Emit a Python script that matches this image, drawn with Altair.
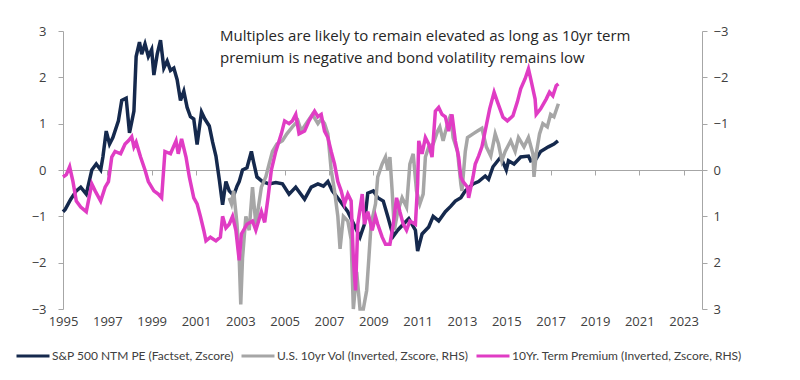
import altair as alt
import pandas as pd

# S&P 500 NTM PE z-score (left axis)
pe = [(1995.0, -0.9), (1995.1, -0.85), (1995.35, -0.63), (1995.6, -0.45), (1995.8, -0.37),
      (1996.05, -0.52), (1996.3, 0.0), (1996.5, 0.13), (1996.7, 0.0), (1996.8, 0.28),
      (1996.95, 0.84), (1997.1, 0.56), (1997.25, 0.7), (1997.5, 1.06), (1997.65, 1.5),
      (1997.85, 1.55), (1998.0, 0.8), (1998.2, 1.27), (1998.3, 2.45), (1998.45, 2.76),
      (1998.55, 2.5), (1998.7, 2.72), (1998.85, 2.45), (1999.0, 2.6), (1999.1, 2.05),
      (1999.25, 2.5), (1999.4, 2.8), (1999.55, 2.2), (1999.7, 2.35), (1999.85, 2.15),
      (2000.0, 2.2), (2000.15, 1.95), (2000.3, 1.5), (2000.45, 1.7), (2000.6, 1.35),
      (2000.75, 1.15), (2000.9, 1.1), (2001.05, 0.55), (2001.25, 1.25), (2001.4, 1.1),
      (2001.6, 0.95), (2001.75, 0.6), (2001.9, 0.3), (2002.05, -0.2), (2002.2, -0.75),
      (2002.35, -0.25), (2002.5, -0.45), (2002.7, -0.55), (2002.85, -0.35), (2002.95, -0.25),
      (2003.1, 0.0), (2003.3, 0.05), (2003.5, 0.4), (2003.6, 0.17), (2003.75, -0.15),
      (2004.0, -0.25), (2004.3, -0.3), (2004.6, -0.27), (2004.9, -0.3), (2005.2, -0.52),
      (2005.5, -0.37), (2005.9, -0.63), (2006.2, -0.37), (2006.5, -0.3), (2006.75, -0.35),
      (2006.95, -0.25), (2007.15, -0.45), (2007.5, -0.67), (2007.85, -0.9), (2008.05, -1.1),
      (2008.4, -1.45), (2008.6, -1.17), (2008.75, -0.5), (2009.0, -0.45), (2009.2, -0.6),
      (2009.45, -0.67), (2009.65, -1.0), (2009.9, -1.43), (2010.1, -1.3), (2010.35, -1.17),
      (2010.6, -1.05), (2010.9, -1.3), (2011.0, -1.75), (2011.2, -1.38), (2011.5, -1.23),
      (2011.7, -1.0), (2011.95, -1.1), (2012.25, -0.9), (2012.5, -0.78), (2012.7, -0.67),
      (2012.95, -0.6), (2013.15, -0.45), (2013.5, -0.3), (2013.75, -0.25), (2014.05, -0.13),
      (2014.2, -0.2), (2014.4, 0.07), (2014.75, 0.28), (2015.0, 0.0), (2015.1, 0.2),
      (2015.35, 0.13), (2015.65, 0.28), (2016.0, 0.3), (2016.1, 0.2), (2016.35, 0.24),
      (2016.55, 0.4), (2016.9, 0.5), (2017.15, 0.56), (2017.33, 0.63)]

# U.S. 10yr Vol z-score, inverted (right axis values)
vol = [(2002.5, 0.6), (2002.6, 0.73), (2002.7, 0.45), (2002.85, 1.17), (2002.95, 1.9),
       (2003.02, 2.9), (2003.1, 1.9), (2003.25, 1.0), (2003.4, 1.3), (2003.55, 0.37),
       (2003.7, 1.17), (2003.95, 0.37), (2004.15, 0.15), (2004.3, -0.13), (2004.45, -0.4),
       (2004.65, -0.56), (2004.9, -0.63), (2005.1, -0.78), (2005.35, -0.93), (2005.6, -1.06),
       (2005.75, -0.84), (2006.05, -1.06), (2006.25, -1.2), (2006.5, -1.0), (2006.65, -1.1),
       (2006.8, -1.0), (2006.95, -0.78), (2007.1, 0.0), (2007.25, 0.45), (2007.4, 1.0),
       (2007.5, 1.7), (2007.65, 1.0), (2007.85, 1.1), (2008.0, 1.5), (2008.1, 3.0),
       (2008.25, 2.2), (2008.4, 3.0), (2008.55, 3.0), (2008.7, 2.6), (2008.8, 1.9),
       (2008.9, 1.17), (2009.1, 0.73), (2009.2, 0.15), (2009.4, -0.13), (2009.55, -0.28),
       (2009.65, 0.0), (2009.75, -0.28), (2009.85, 0.45), (2009.95, 1.3), (2010.1, 0.9),
       (2010.3, 0.6), (2010.5, 0.8), (2010.65, -0.13), (2010.8, -0.35), (2010.95, 0.45),
       (2011.1, 0.73), (2011.25, 0.52), (2011.35, -0.28), (2011.5, -0.5), (2011.7, -0.56),
       (2011.9, -0.84), (2012.0, -0.93), (2012.15, -0.63), (2012.35, -1.0), (2012.5, -1.2),
       (2012.6, -0.7), (2012.8, -0.4), (2012.95, 0.3), (2013.0, 0.45), (2013.15, -0.4),
       (2013.25, -0.7), (2013.5, -0.78), (2013.7, -0.84), (2013.9, -0.9), (2014.1, -0.5),
       (2014.3, -0.3), (2014.5, -0.78), (2014.65, -0.56), (2014.8, -0.2), (2014.95, -0.4),
       (2015.2, -0.63), (2015.4, -0.4), (2015.55, -0.7), (2015.8, -0.5), (2016.0, -0.7),
       (2016.2, -0.35), (2016.25, 0.15), (2016.35, -0.35), (2016.5, -0.78), (2016.65, -1.0),
       (2016.85, -0.93), (2017.0, -1.2), (2017.15, -1.15), (2017.35, -1.43)]

# 10Yr term premium z-score, inverted (right axis values)
tp = [(1995.0, 0.15), (1995.15, 0.1), (1995.3, -0.07), (1995.45, 0.25), (1995.6, 0.67),
      (1995.8, 0.8), (1996.05, 0.9), (1996.3, 0.3), (1996.45, 0.45), (1996.7, 0.67),
      (1996.9, 0.37), (1997.05, 0.25), (1997.2, -0.28), (1997.35, -0.4), (1997.6, -0.35),
      (1997.8, -0.56), (1997.95, -0.63), (1998.1, -0.72), (1998.2, -0.5), (1998.3, -0.6),
      (1998.5, -0.28), (1998.7, 0.0), (1998.85, 0.25), (1999.1, 0.45), (1999.3, 0.52),
      (1999.45, 0.6), (1999.6, -0.4), (1999.85, -0.35), (2000.1, -0.63), (2000.2, -0.35),
      (2000.35, -0.67), (2000.55, -0.28), (2000.7, 0.15), (2000.9, 0.6), (2001.05, 0.73),
      (2001.2, 1.0), (2001.35, 1.3), (2001.45, 1.53), (2001.65, 1.45), (2001.9, 1.53),
      (2002.1, 1.45), (2002.2, 1.0), (2002.35, 1.25), (2002.5, 1.17), (2002.65, 1.0),
      (2002.8, 1.3), (2002.95, 1.95), (2003.05, 1.38), (2003.3, 1.17), (2003.55, 1.1),
      (2003.7, 1.3), (2003.95, 0.9), (2004.1, 1.13), (2004.25, 0.6), (2004.4, 0.0),
      (2004.6, -0.4), (2004.85, -0.78), (2005.0, -1.06), (2005.2, -1.0), (2005.35, -1.06),
      (2005.5, -1.2), (2005.65, -0.78), (2005.9, -0.84), (2006.1, -1.06), (2006.35, -1.27),
      (2006.5, -1.15), (2006.65, -1.2), (2006.8, -0.84), (2006.95, -0.7), (2007.1, -0.4),
      (2007.25, -0.13), (2007.4, 0.25), (2007.55, 0.45), (2007.7, 0.73), (2007.85, 0.52),
      (2008.0, 0.67), (2008.1, 1.9), (2008.2, 2.6), (2008.3, 1.17), (2008.5, 0.52),
      (2008.6, 1.17), (2008.75, 0.9), (2008.95, 1.3), (2009.1, 1.0), (2009.2, 1.17),
      (2009.4, 1.45), (2009.55, 1.6), (2009.75, 1.6), (2009.9, 1.17), (2010.05, 0.6),
      (2010.2, 0.9), (2010.35, 1.17), (2010.5, 1.3), (2010.65, 1.1), (2010.9, 1.17),
      (2011.0, 0.3), (2011.05, -0.63), (2011.2, -0.35), (2011.35, -0.7), (2011.5, -0.56),
      (2011.65, -0.28), (2011.8, -1.27), (2011.95, -1.35), (2012.1, -1.2), (2012.25, -1.15),
      (2012.4, -0.84), (2012.55, -1.2), (2012.7, -0.63), (2012.85, -0.28), (2012.95, 0.15),
      (2013.05, 0.25), (2013.25, 0.37), (2013.3, 0.6), (2013.5, 0.15), (2013.6, -0.13),
      (2013.75, -0.3), (2013.9, -0.5), (2014.0, -0.73), (2014.25, -1.32), (2014.45, -1.68),
      (2014.6, -1.47), (2014.85, -1.14), (2015.05, -1.06), (2015.3, -1.17), (2015.5, -1.47),
      (2015.65, -1.75), (2015.85, -1.97), (2016.0, -2.18), (2016.1, -1.97), (2016.3, -1.53),
      (2016.35, -1.2), (2016.55, -1.32), (2016.8, -1.53), (2016.95, -1.68), (2017.1, -1.6),
      (2017.25, -1.82), (2017.35, -1.86)]

series_names = ["S&P 500 NTM PE (Factset, Zscore)",
                "U.S. 10yr Vol (Inverted, Zscore, RHS)",
                "10Yr. Term Premium (Inverted, Zscore, RHS)"]
series_colors = ["#15294d", "#a6a6a6", "#e03cc4"]
year_ticks = list(range(1995, 2024, 2))
y_ticks = [-3, -2, -1, 0, 1, 2, 3]
title_lines = ["Multiples are likely to remain elevated as long as 10yr term",
               "premium is negative and bond volatility remains low"]

rows = []
for name, pts in zip(series_names, [pe, vol, tp]):
    for t, v in pts:
        rows.append({"t": t, "v": v, "series": name})
df = pd.DataFrame(rows)

FONT = "Open Sans"
LFONT = "Lato"
LBL = "#404040"
AX = "#a6a6a6"

color = alt.Color("series:N", scale=alt.Scale(domain=series_names, range=series_colors),
                  sort=series_names,
                  legend=alt.Legend(title=None, orient="none", direction="horizontal",
                                    columns=3, legendX=-48, legendY=307,
                                    symbolType="stroke", symbolSize=1089,
                                    symbolStrokeWidth=3, labelFont=LFONT, labelFontSize=12,
                                    labelColor=LBL, labelLimit=400, columnPadding=1,
                                    labelOffset=1, padding=0))

x = alt.X("t:Q", scale=alt.Scale(domain=[1995, 2023.83], nice=False, zero=False),
          axis=alt.Axis(values=year_ticks, format="d", title=None, grid=False,
                        offset=-139, tickSize=5, labelPadding=140, domainColor=AX,
                        tickColor=AX, labelFont=FONT, labelFontSize=13,
                        labelColor=LBL, labelFlush=False))

left = alt.Chart(df).transform_filter(alt.datum.series == series_names[0]).mark_line(
    strokeWidth=3.5).encode(
    x=x,
    y=alt.Y("v:Q", scale=alt.Scale(domain=[-3, 3], nice=False),
            axis=alt.Axis(values=y_ticks, format="d", title=None, grid=False,
                          tickSize=5, labelPadding=12, domainColor=AX, tickColor=AX,
                          labelFont=FONT, labelFontSize=13, labelColor=LBL)),
    color=color,
    detail="series:N",
)

right = alt.Chart(df).transform_filter(alt.datum.series != series_names[0]).mark_line(
    strokeWidth=3.5).encode(
    x=x,
    y=alt.Y("v:Q", scale=alt.Scale(domain=[-3, 3], nice=False, reverse=True),
            axis=alt.Axis(values=y_ticks, format="d", title=None, grid=False, orient="right",
                          tickSize=5, labelPadding=6, domainColor=AX, tickColor=AX,
                          labelFont=FONT, labelFontSize=13, labelColor=LBL)),
    color=color,
    detail="series:N",
)

chart = alt.layer(left, right).resolve_scale(y="independent").properties(
    width=639, height=278,
    autosize=alt.AutoSizeParams(type="none"),
    padding={"left": 55, "top": 23, "right": 90, "bottom": 63},
    title=alt.Title(text=title_lines, anchor="start", dx=157, dy=41, offset=0,
                    font=FONT, fontSize=15, fontWeight="normal", color="#262626",
                    lineHeight=22, frame="group"),
).configure_view(stroke=None)

chart.save("out.html", embed_options={"renderer": "svg", "actions": False})
